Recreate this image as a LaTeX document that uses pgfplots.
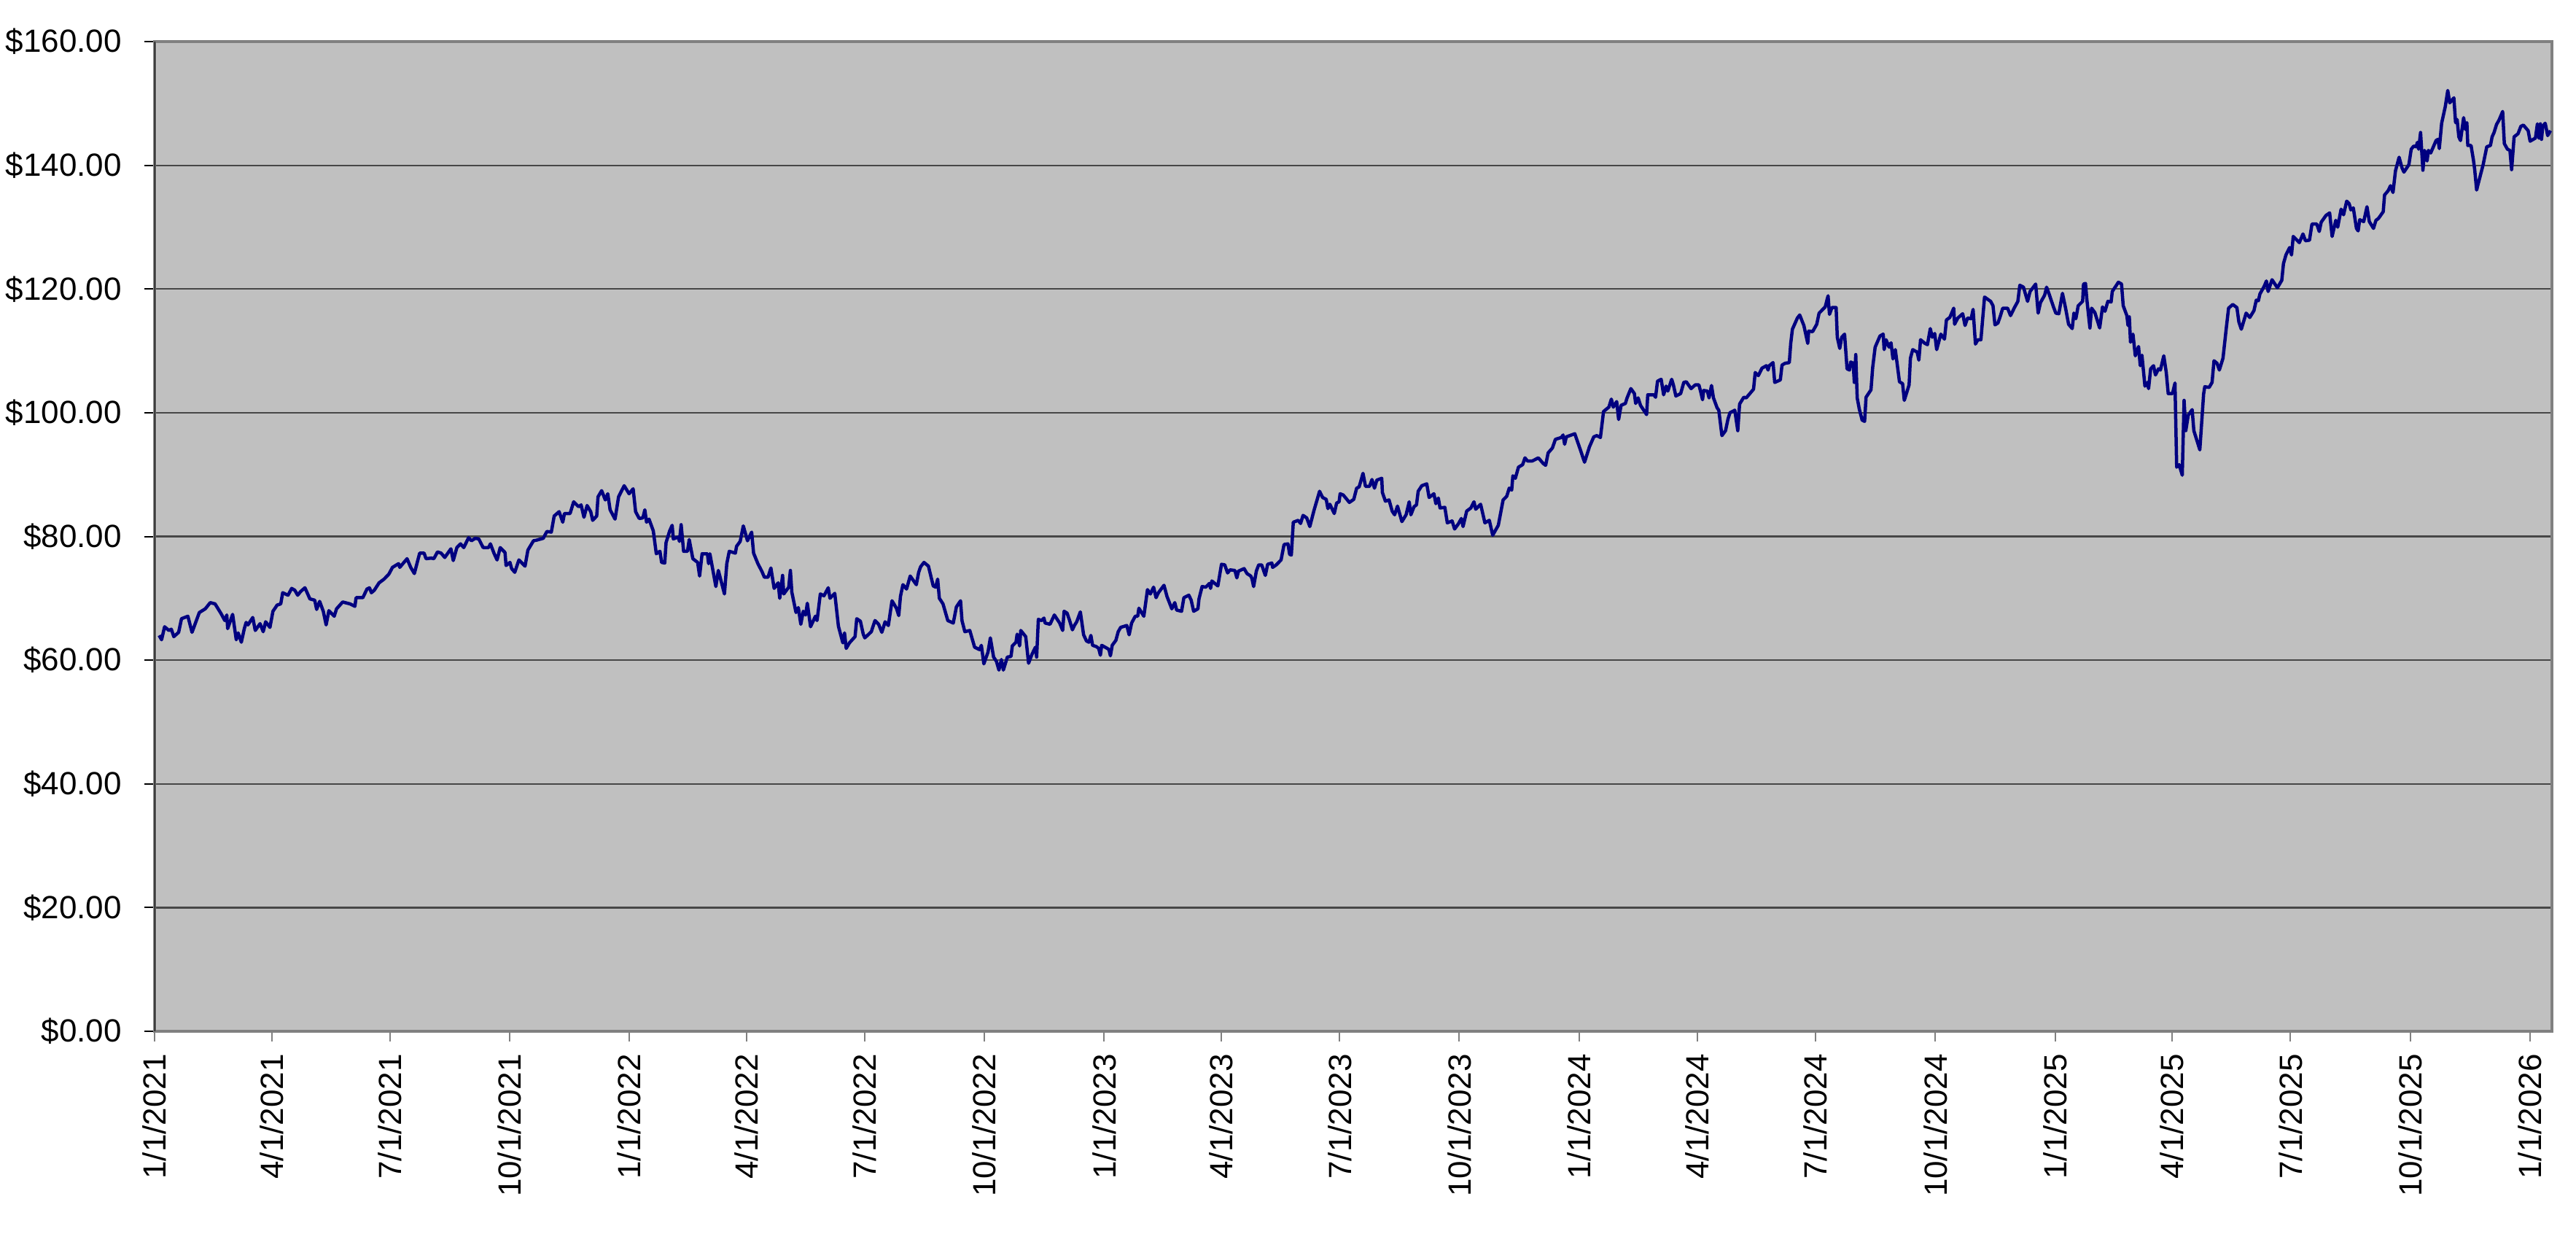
\documentclass[border=0pt]{standalone}
\usepackage{fontspec}
\setmainfont{Liberation Sans}
\usepackage{pgfplots}
\pgfplotsset{compat=1.18}
\definecolor{navyline}{HTML}{000080}
\definecolor{plotbg}{HTML}{C0C0C0}
\definecolor{borderg}{HTML}{808080}
\begin{document}
\begin{tikzpicture}[x=1pt,y=1pt]
\path[use as bounding box] (-42.4,-60.6) rectangle (664.2,282.8);
\begin{axis}[
  at={(0,0)}, anchor=south west,
  scale only axis, width=657.6pt, height=271.4pt,
  xmin=0, xmax=1843, ymin=0, ymax=160,
  axis background/.style={fill=plotbg},
  axis line style={borderg, line width=0.7pt},
  ytick={0,20,40,60,80,100,120,140,160},
  yticklabels={\$0.00,\$20.00,\$40.00,\$60.00,\$80.00,\$100.00,\$120.00,\$140.00,\$160.00},
  xtick={0,90,181,273,365,455,546,638,730,820,911,1003,1095,1186,1277,1369,1461,1551,1642,1734,1826},
  xticklabels={1/1/2021,4/1/2021,7/1/2021,10/1/2021,1/1/2022,4/1/2022,7/1/2022,10/1/2022,1/1/2023,4/1/2023,7/1/2023,10/1/2023,1/1/2024,4/1/2024,7/1/2024,10/1/2024,1/1/2025,4/1/2025,7/1/2025,10/1/2025,1/1/2026},
  ticklabel style={font=\fontsize{8.8pt}{10pt}\selectfont, text=black},
  xticklabel style={rotate=90, anchor=east},
  yticklabel style={anchor=east, xshift=-2.8pt},
  tick align=outside, major tick length=2.7pt,
  xtick pos=bottom, ytick pos=left,
  x tick style={borderg, line width=0.4pt},
  y tick style={black, line width=0.4pt},
  ymajorgrids, major grid style={black!72, line width=0.45pt},
  clip=true,
]
\addplot[navyline, line width=0.9pt, line join=round] coordinates {
(3.5,64.0)(5.4,63.3)(7.7,65.4)(11,64.8)(12.9,65.0)(14.8,63.8)(18.5,64.5)(20.7,66.7)(25.6,67.1)(28.8,64.5)(34.4,67.7)(39.0,68.3)(42.8,69.3)(46.5,69.1)(51.2,67.5)(54.0,66.4)(55.5,67.3)(56.2,65.1)(60.0,67.4)(62.8,63.3)(64.3,64.4)(66.7,62.9)(69.0,65.1)(70.4,66.1)(71.8,65.7)(75.5,66.9)(77.4,64.8)(81.1,65.9)(83.5,64.6)(85.4,66.2)(88.7,65.3)(91.0,67.9)(94.2,68.9)(97.0,69.1)(98.5,70.9)(102.6,70.5)(105.4,71.6)(107.8,71.3)(110.0,70.5)(112.3,71.1)(115.6,71.7)(119.4,69.9)(123.1,69.7)(124.6,68.2)(126.9,69.5)(129.7,67.9)(131.9,65.7)(134.0,68.0)(138.1,67.1)(139.9,68.3)(144.6,69.4)(150.2,69.1)(154.0,68.7)(154.9,70.1)(160.1,70.1)(163.3,71.5)(165.2,71.7)(166.7,70.9)(168.9,71.3)(172.6,72.5)(176.4,73.1)(180.1,73.9)(182.9,75.0)(187.6,75.6)(188.5,75.0)(194.1,76.4)(196.9,75.0)(199.7,74.0)(203.8,77.3)(207.2,77.3)(208.7,76.4)(212.8,76.5)(214.7,76.4)(217.5,77.5)(220.3,77.3)(223.1,76.6)(227.8,78.0)(229.6,76.1)(232.4,78.2)
(235.2,78.8)(237.7,78.2)(241.4,79.8)(243.6,79.3)(246.5,79.7)(249.2,79.6)(252.6,78.2)(256.7,78.2)(258.2,78.8)(260.9,77.3)(263.3,76.2)(265.7,78.2)(269.4,77.4)(270.2,75.3)(273.2,75.8)(274.5,74.8)(276.9,74.2)(280.1,76.2)(284.8,75.2)(287.0,77.8)(291.3,79.3)(293.7,79.4)(298.8,79.7)(301.6,80.8)(305.0,80.7)(307.2,83.3)(311.0,84.0)(313.8,82.3)(315.1,83.7)(319.4,83.7)(322.2,85.6)(326.0,84.8)(327.9,85.1)(330.1,83.1)(332.5,85.0)(335.3,84.0)(336.8,82.6)(339.9,83.3)(340.9,86.4)(343.7,87.4)(346.5,85.9)(348.4,86.9)(350.2,84.3)(354.0,82.8)(356.7,86.4)(361.0,88.2)(364.8,86.9)(367.9,87.7)(369.8,84.0)(372.6,82.9)(375.4,83.0)(376.9,84.3)(378.2,82.3)(380.1,82.8)(383.4,80.9)(385.7,77.2)(388.5,77.6)(389.8,75.8)(392.2,75.7)(393.2,79.0)(396.0,80.9)(397.9,81.8)(398.8,79.6)(402.6,79.9)(403.5,79.2)(404.8,81.9)(406.7,77.6)(409.7,77.6)(411.0,79.5)(413.8,76.4)(417.5,75.8)(419.0,73.6)(420.9,77.2)(425.0,77.2)(425.9,75.6)(426.9,77.2)(431.5,71.9)(433.4,74.5)(438.1,70.7)(439.9,75.6)(441.8,77.6)(446.5,77.3)(447.4,78.4)(450.2,79.2)(452.6,81.7)(455.8,79.3)(459.0,80.7)(460.5,77.3)(463.8,75.6)(467.0,74.3)
(468.8,73.4)(471.6,73.4)(473.8,74.9)(476.3,71.6)(479.4,72.5)(480.6,70.0)(482.8,73.7)(483.7,70.7)(487.5,71.8)(488.8,74.5)(489.9,71.0)(493.1,67.7)(494.9,68.5)(496.8,65.8)(498.7,67.9)(500.5,67.3)(501.8,69.2)(504.3,65.4)(508.0,67.1)(509.3,66.4)(511.8,70.7)(514.6,70.4)(517.9,71.7)(519.2,70.0)(522.9,70.8)(525.7,65.5)(529.1,62.8)(530.4,64.4)(531.7,61.9)(534.2,62.8)(538.5,63.8)(539.8,66.7)(542.6,66.3)(544.8,64.2)(546.0,63.6)(551.0,64.6)(553.8,66.4)(556.6,65.8)(559.1,64.5)(561.6,66.2)(564.1,65.6)(566.9,69.6)(570.3,68.4)(572.1,67.2)(573.4,70.3)(575.3,72.2)(578.1,71.5)(580.9,73.6)(585.6,72.2)(587.4,74.2)(588.9,75.1)(591.5,75.8)(594.9,75.2)(598.6,72.0)(600.5,71.8)(602.0,73.1)(603.3,70.0)(606.1,69.1)(609.8,66.4)(614.0,66.0)(616.4,68.6)(619.6,69.6)(620.7,66.4)(622.9,64.6)(626.7,64.8)(630.4,62.1)(634.2,61.7)(635.6,62.4)(637.5,59.4)(640.7,61.3)(642.5,63.6)(645.0,60.5)(647.2,59.8)(649.1,58.4)(651.0,60.1)(652.5,58.4)(655.6,60.5)(658.4,60.6)(659.4,62.3)(662.2,62.9)(663.1,64.2)(665.0,62.3)(665.9,64.8)(669.7,63.8)(671.9,59.5)(674.4,60.9)(677.2,62.1)(678.1,60.5)(679.4,66.6)(681.9,66.4)(683.7,66.8)(684.6,66.0)(688.4,65.8)(691.7,67.3)(695.8,66.0)(698.1,64.8)(699.2,67.9)
(701.5,67.6)(703.3,66.5)(705.6,64.9)(707.1,65.6)(708.9,66.2)(711.7,67.8)(714.2,64.1)(716.4,63.1)(718.3,62.9)(719.8,64.0)(721.1,62.4)(723.9,62.2)(725.8,61.9)(727.1,60.8)(728.1,62.4)(732.4,61.9)(733.7,61.7)(734.8,60.7)(736.2,62.4)(739.0,63.2)(740.8,64.6)(742.7,65.3)(747.4,65.6)(749.2,64.1)(751.1,66.0)(753.9,67.1)(755.8,67.1)(756.7,68.4)(760.5,67.1)(763.3,71.4)(765.5,70.7)(768.0,71.8)(769.9,70.1)(771.7,70.9)(776.0,72.1)(778.3,70.3)(782.0,68.3)(784.3,69.3)(785.7,68.1)(789.5,67.9)(791.3,70.1)(795.1,70.5)(796.9,69.7)(798.8,67.9)(802.1,68.3)(802.9,69.9)(805.3,71.9)(808.1,71.8)(810.9,72.4)(811.8,71.6)(812.8,72.8)(817.4,72.0)(820.2,75.5)(822.7,75.4)(824.9,74.1)(826.8,74.6)(830.5,74.5)(832.0,73.3)(833.3,74.4)(837.6,74.8)(839.8,74.0)(842.7,73.6)(843.6,73.2)(844.9,71.9)(847.0,74.4)(848.8,75.4)(851.1,75.4)(853.9,73.7)(855.7,75.5)(858.9,75.7)(859.5,75.0)(862.3,75.4)(866.0,76.2)(868.3,78.7)(871.3,78.8)(872.6,77.1)(873.9,77.0)(875.4,82.3)(879.2,82.6)(881.0,82.1)(882.9,83.4)(885.7,83.0)(888.1,81.6)(891.3,84.2)(895.6,87.3)(897.9,86.3)(900.7,86.0)(902.0,84.5)(903.5,85.2)(906.9,83.7)(908.7,85.4)(910.6,85.6)(911.4,86.9)(913.8,86.7)(918.5,85.5)(921.9,86.0)(924.1,87.8)(926.0,88.0)
(929.0,90.2)(930.9,88.1)(934.0,88.1)(935.9,89.2)(937.8,87.8)(939.6,89.1)(943.4,89.4)(943.9,87.1)(946.2,85.7)(949.0,85.9)(951.4,84.1)(953.3,83.5)(955.5,84.9)(958.9,82.4)(962.1,83.5)(964.5,85.6)(965.8,83.5)(968.2,84.8)(970.1,85.1)(971.4,87.3)(974.2,88.2)(978.0,88.5)(979.8,86.3)(983.5,86.9)(985.0,85.3)(986.9,86.2)(988.2,84.6)(991.9,84.7)(993.8,82.2)(997.5,82.5)(999.4,81.2)(1002.2,82.0)(1004.6,82.9)(1005.9,81.6)(1008.7,84.1)(1011.9,84.6)(1014.3,85.6)(1015.6,84.4)(1019.4,85.2)(1022.7,82.2)(1026.1,82.6)(1028.7,80.2)(1033.0,81.8)(1036.7,85.9)(1039.5,86.5)(1041.4,87.8)(1043.3,87.5)(1044.2,89.8)(1046.1,89.4)(1048.5,91.2)(1051.7,91.6)(1053.5,92.7)(1055.4,92.2)(1059.1,92.2)(1063.8,92.7)(1067.5,91.8)(1069.4,91.5)(1071.3,93.5)(1074.6,94.3)(1076.9,95.7)(1081.5,96.0)(1082.8,96.4)(1084.0,94.9)(1085.3,96.1)(1091.8,96.6)(1095.6,94.3)(1099.3,92.0)(1103.1,94.5)(1106.4,96.1)(1108.7,96.3)(1111.5,96.0)(1113.9,100.2)(1118.0,100.9)(1119.9,102.2)(1121.4,100.9)(1124.0,101.8)(1125.5,98.9)(1127.4,101.2)(1130.7,101.5)(1132.0,102.4)(1134.9,103.9)(1137.6,103.1)(1138.6,101.5)(1140.5,102.4)(1142.3,101.2)(1147.0,99.7)(1147.9,102.9)(1152.6,102.9)(1153.9,102.5)(1155.4,105.1)
(1158.2,105.4)(1160.1,102.9)(1162.0,104.3)(1163.3,103.5)(1166.3,105.4)(1167.6,104.5)(1169.5,102.7)(1173.2,103.1)(1175.6,104.9)(1177.5,105.0)(1181.2,103.9)(1184.4,104.5)(1187.2,104.5)(1188.7,103.3)(1190.0,102.1)(1190.9,103.6)(1193.7,103.5)(1195.0,102.4)(1196.9,104.4)(1198.4,102.4)(1201.2,100.8)(1202.5,100.4)(1204.9,96.3)(1207.7,97.1)(1209.6,99.0)(1211.1,100.0)(1214.8,100.4)(1217.1,97.1)(1218.5,101.4)(1221.7,102.5)(1223.6,102.4)(1229.2,103.8)(1230.5,106.5)(1232.9,106.0)(1235.7,107.2)(1239.1,107.6)(1240.4,106.9)(1241.3,107.6)(1244.2,108.1)(1245.5,104.9)(1249.8,105.3)(1251.1,107.7)(1253.5,108.0)(1256.7,108.1)(1257.8,111.2)(1259.1,113.5)(1262.9,115.3)(1264.7,115.8)(1267.9,114.1)(1270.9,111.2)(1271.6,113.2)(1274.6,113.1)(1277.8,114.3)(1279.6,116.1)(1284.3,117.1)(1286.5,118.9)(1287.6,115.9)(1289.5,117.0)(1292.7,117.0)(1293.6,112.2)(1295.5,110.4)(1297.0,112.2)(1299.2,112.7)(1301.1,107.1)(1303.0,106.9)(1303.9,108.2)(1305.8,108.0)(1306.7,104.9)(1307.8,109.4)(1308.9,102.4)(1310.5,100.6)(1312.7,98.8)(1314.6,98.6)(1315.7,102.5)(1319.5,103.7)(1320.8,107.3)(1322.7,110.6)(1326.4,112.4)(1328.9,112.7)(1329.6,110.2)(1331.1,111.8)(1333.4,110.6)(1334.9,111.3)(1336.4,108.7)(1338.2,110.2)(1341.4,105.0)(1343.8,104.7)(1345.1,102.0)(1348.8,104.5)(1349.8,108.8)(1351.6,110.2)(1355.0,109.8)(1356.3,108.5)(1357.6,111.8)(1361.0,111.2)(1362.9,111.0)(1365.1,113.6)(1366.6,112.2)(1368.5,112.8)(1370.0,110.2)(1373.2,112.7)(1376.0,111.9)(1377.5,115.0)(1380.1,115.4)(1383.1,116.9)(1383.8,114.3)
(1386.2,115.3)(1390.0,116.0)(1391.8,114.1)(1393.7,115.3)(1396.5,115.2)(1398.0,116.7)(1399.8,111.1)(1401.7,111.8)(1404.0,111.8)(1406.8,118.7)(1411.5,118.0)(1413.3,117.3)(1414.8,114.2)(1417.1,114.5)(1418.9,115.6)(1420.8,116.9)(1424.5,116.9)(1426.8,115.7)(1429.8,117.0)(1432.4,118.0)(1433.9,120.6)(1436.7,120.3)(1439.9,118.0)(1441.8,119.6)(1446.1,120.8)(1448.0,116.1)(1449.8,117.8)(1453.0,119.0)(1454.5,120.3)(1456.4,119.2)(1459.8,117.1)(1461.6,116.1)(1463.9,116.0)(1466.7,119.3)(1469.1,116.9)(1471.4,114.3)(1474.2,113.6)(1475.5,116.1)(1477.0,115.2)(1478.8,117.3)(1482.2,118.0)(1482.9,120.8)(1484.4,120.9)(1485.4,118.4)(1487.8,113.7)(1489.1,116.9)(1491.6,116.2)(1495.3,113.7)(1497.5,117.1)(1499.4,116.4)(1501.6,118.0)(1504.1,117.9)(1505.0,119.6)(1509.7,121.1)(1512.1,120.8)(1513.4,117.3)(1516.2,115.7)(1517.1,114.1)(1518.1,115.5)(1519.0,111.4)(1520.9,112.7)(1522.7,109.2)(1525.2,110.7)(1526.5,107.6)(1527.8,109.3)(1530.1,104.3)(1532.0,104.9)(1532.9,103.9)(1534.5,107.1)(1536.7,107.6)(1538.2,106.1)(1540.5,107.1)(1542.0,106.9)(1544.6,109.2)(1546.5,106.5)(1548.0,103.1)(1551.3,103.1)(1553.2,104.8)(1554.5,91.2)(1556.4,91.6)(1558.8,89.9)(1560.2,102.0)(1561.5,97.1)(1563.4,99.6)(1566.4,100.5)(1567.7,97.1)(1572.3,94.0)(1575.2,103.0)(1576.1,104.2)(1579.5,104.1)(1581.7,104.9)(1583.2,108.4)(1585.5,108.0)(1587.3,106.9)(1590.1,108.8)(1592.6,113.6)(1594.4,116.9)(1597.6,117.5)(1600.8,117.0)(1602.3,114.7)(1604.2,113.5)(1607.9,116.1)(1610.7,115.4)(1613.9,116.5)(1615.7,118.2)
(1617.3,118.1)(1618.5,119.2)(1621.7,120.4)(1623.5,121.3)(1624.8,119.6)(1627.8,121.5)(1631.9,120.2)(1635.3,121.4)(1636.6,124.1)(1638.5,125.5)(1641.3,126.7)(1642.8,125.5)(1644.1,128.5)(1648.8,127.5)(1651.6,128.9)(1653.5,127.8)(1656.6,127.9)(1658.5,130.5)(1662.2,130.5)(1664.1,129.3)(1665.6,130.8)(1669.3,131.9)(1672.1,132.3)(1674.0,128.5)(1676.8,131.1)(1678.3,130.0)(1680.9,132.9)(1682.8,132.0)(1685.2,134.2)(1687.1,133.8)(1688.4,132.8)(1690.3,133.1)(1692.7,129.8)(1694.0,129.4)(1695.2,131.2)(1698.3,130.9)(1700.8,133.3)(1702.6,130.9)(1705.8,129.8)(1707.7,131.1)(1709.6,131.4)(1713.3,132.5)(1714.3,135.2)(1717.1,135.9)(1718.9,136.7)(1720.8,135.6)(1722.7,139.1)(1725.5,141.3)(1727.7,139.6)(1729.2,138.9)(1733.0,140.1)(1734.8,142.6)(1736.7,143.1)(1738.6,143.0)(1739.5,143.7)(1740.5,142.6)(1742.0,145.3)(1743.8,139.2)(1745.1,142.4)(1747.0,140.7)(1748.0,142.4)(1749.8,142.0)(1753.9,144.0)(1755.4,144.2)(1756.4,142.7)(1758.2,146.8)(1761.0,149.5)(1762.9,152.1)(1764.4,150.1)(1767.6,150.9)(1768.9,146.9)(1770.1,147.4)(1771.4,144.6)(1772.7,144.0)(1775.1,147.7)(1776.4,145.8)(1777.6,146.9)(1778.3,143.2)(1780.8,143.2)(1782.6,140.9)(1783.6,139.3)(1785.1,136.0)(1786.4,137.1)(1790.1,140.1)(1792.9,143.0)(1795.7,143.2)(1797.0,144.6)(1798.5,145.3)(1800.4,146.6)(1802.3,147.3)(1805.1,148.7)(1806.4,143.5)(1808.8,142.6)(1810.7,142.4)(1812.0,139.3)(1813.9,144.6)(1816.9,145.1)(1819.1,146.3)(1821.0,146.5)(1824.7,145.6)(1826.2,143.9)(1830.3,144.4)(1831.8,146.7)(1833.1,144.4)(1834.1,146.7)(1835.0,144.2)(1835.9,146.3)(1837.8,146.8)(1839.7,144.8)(1841.9,145.6)
};
\draw[black, line width=0.6pt] (rel axis cs:0,0) -- (rel axis cs:0,1);
\end{axis}
\end{tikzpicture}
\end{document}
